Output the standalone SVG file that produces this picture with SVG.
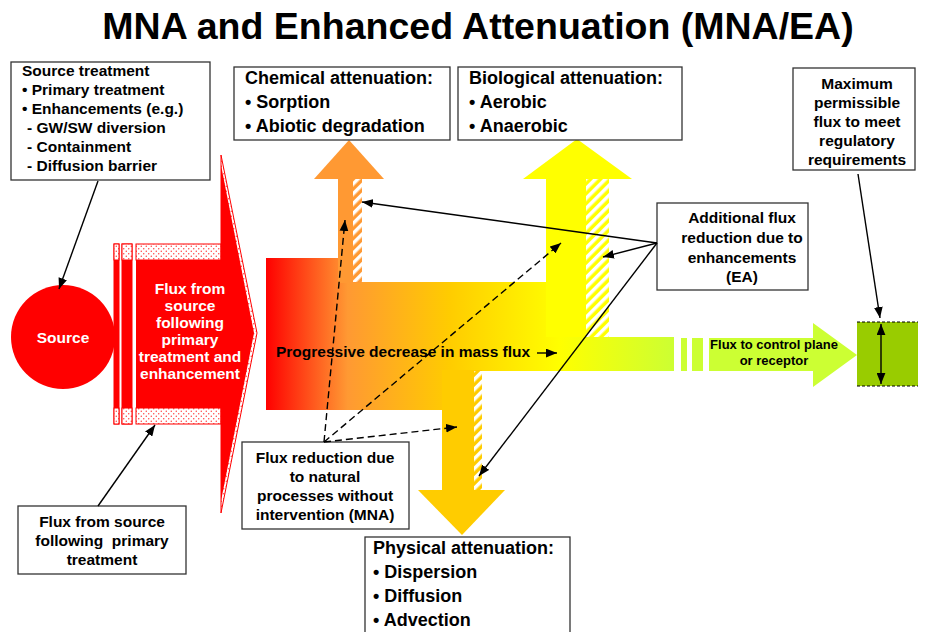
<svg xmlns="http://www.w3.org/2000/svg" width="927" height="632" viewBox="0 0 927 632">
<style>
text{font-family:"Liberation Sans",Arial,sans-serif;font-weight:bold;fill:#000}
.box{fill:#fff;stroke:#333;stroke-width:1.3}
.t15{font-size:15.5px}
.t18{font-size:18px}
.c{text-anchor:middle}
.w{fill:#fff}
.ln{stroke:#000;stroke-width:1.4;fill:none}
.dash{stroke-dasharray:7,4}
</style>
<defs>
<marker id="ah" viewBox="0 0 10 8" refX="10" refY="4" markerWidth="11" markerHeight="9" orient="auto-start-reverse" markerUnits="userSpaceOnUse"><path d="M0,0 L10,4 L0,8 z" fill="#000"/></marker>
<pattern id="dots" width="5" height="5" patternUnits="userSpaceOnUse"><rect width="5" height="5" fill="#fff"/><circle cx="1.25" cy="1.25" r="0.7" fill="#f33"/><circle cx="3.75" cy="3.75" r="0.7" fill="#f33"/></pattern>
<pattern id="hatch" width="7" height="7" patternUnits="userSpaceOnUse" patternTransform="rotate(45)"><rect width="3.5" height="7" fill="#fff"/></pattern>
<linearGradient id="grad" gradientUnits="userSpaceOnUse" x1="266" y1="0" x2="674" y2="0">
<stop offset="0" stop-color="#FF0000"/>
<stop offset="0.2" stop-color="#FF9933"/>
<stop offset="0.45" stop-color="#FFCC00"/>
<stop offset="0.72" stop-color="#FFFF00"/>
<stop offset="1" stop-color="#CCFF33"/>
</linearGradient>
</defs>
<rect width="927" height="632" fill="#fff"/>
<text x="478" y="39" class="c" style="font-size:37.5px">MNA and Enhanced Attenuation (MNA/EA)</text>

<g id="source">
<circle cx="63" cy="337" r="52" fill="#FF0000"/>
<text x="63" y="343" class="c t15 w">Source</text>
</g>

<g id="source-flux">
<rect x="114" y="244" width="5" height="180" fill="#f00" stroke="#f00"/>
<rect x="114" y="244" width="5" height="16" fill="url(#dots)" stroke="#f00"/>
<rect x="114" y="408" width="5" height="16" fill="url(#dots)" stroke="#f00"/>
<rect x="122" y="244" width="10" height="180" fill="#f00" stroke="#f00"/>
<rect x="122" y="244" width="10" height="16" fill="url(#dots)" stroke="#f00"/>
<rect x="122" y="408" width="10" height="16" fill="url(#dots)" stroke="#f00"/>
<rect x="136" y="260" width="86" height="148" fill="#f00"/>
<rect x="136" y="244" width="85" height="16" fill="url(#dots)" stroke="#f00"/>
<rect x="136" y="408" width="85" height="16" fill="url(#dots)" stroke="#f00"/>
<polygon points="221,155 257,333 221,513" fill="url(#dots)" stroke="#f00" stroke-width="1"/>
<polygon points="221,165 254,333 221,501" fill="#f00"/>
<text class="c t15 w" x="190"><tspan x="190" y="294">Flux from</tspan><tspan x="190" y="311">source</tspan><tspan x="190" y="328">following</tspan><tspan x="190" y="345">primary</tspan><tspan x="190" y="362">treatment and</tspan><tspan x="190" y="379">enhancement</tspan></text>
</g>

<g id="mass-flux">
<path d="M266,258 H338 V282 H609 V337 H674 V371 H442 V410 H266 Z" fill="url(#grad)"/>
<rect x="338" y="179" width="24" height="104" fill="#FF9933"/>
<rect x="353" y="179" width="9" height="103" fill="url(#hatch)"/>
<polygon points="314,179 349,140 384,179" fill="#FF9933"/>
<rect x="546" y="179" width="63" height="158" fill="#FFFF00"/>
<rect x="586" y="179" width="23" height="158" fill="url(#hatch)"/>
<polygon points="523,179 577,139 632,179" fill="#FFFF00"/>
<rect x="442" y="370" width="40" height="121" fill="#FFCC00"/>
<rect x="474" y="371" width="8" height="119" fill="url(#hatch)"/>
<polygon points="418,490 505,490 462,535" fill="#FFCC00"/>
<text x="276" y="357" class="t15">Progressive decrease in mass flux</text>
</g>

<g id="control-flux">
<rect x="681" y="338" width="6" height="33" fill="#CCFF33"/>
<rect x="692" y="338" width="11" height="33" fill="#CCFF33"/>
<polygon points="709,338 813,338 813,323 857,355 813,387 813,371 709,371" fill="#CCFF33"/>
<text class="c" style="font-size:13px"><tspan x="774" y="349">Flux to control plane</tspan><tspan x="774" y="365">or receptor</tspan></text>
</g>

<g id="control-plane">
<rect x="857" y="322" width="61" height="64" fill="#99CC00"/>
<line x1="857" y1="322" x2="918" y2="322" stroke="#000" stroke-dasharray="3,2"/>
<line x1="857" y1="386" x2="918" y2="386" stroke="#000" stroke-dasharray="3,2"/>
</g>

<g id="source-treatment">
<rect class="box" x="11" y="62" width="199" height="118"/>
<text class="t15"><tspan x="22" y="76">Source treatment</tspan><tspan x="22" y="95">• Primary treatment</tspan><tspan x="22" y="114">• Enhancements (e.g.)</tspan><tspan x="27" y="133">- GW/SW diversion</tspan><tspan x="27" y="152">- Containment</tspan><tspan x="27" y="171">- Diffusion barrier</tspan></text>
</g>

<g id="chemical">
<rect class="box" x="234" y="67" width="216" height="73"/>
<text class="t18"><tspan x="245" y="84">Chemical attenuation:</tspan><tspan x="245" y="108">• Sorption</tspan><tspan x="245" y="132">• Abiotic degradation</tspan></text>
</g>

<g id="biological">
<rect class="box" x="458" y="67" width="224" height="73"/>
<text class="t18"><tspan x="469" y="84">Biological attenuation:</tspan><tspan x="469" y="108">• Aerobic</tspan><tspan x="469" y="132">• Anaerobic</tspan></text>
</g>

<g id="maximum">
<rect class="box" x="793" y="68" width="122" height="102"/>
<text class="t15 c"><tspan x="857" y="89">Maximum</tspan><tspan x="857" y="108">permissible</tspan><tspan x="857" y="127">flux to meet</tspan><tspan x="857" y="146">regulatory</tspan><tspan x="857" y="165">requirements</tspan></text>
</g>

<g id="additional">
<rect class="box" x="657" y="203" width="151" height="87"/>
<text class="t15 c"><tspan x="742" y="223">Additional flux</tspan><tspan x="742" y="243">reduction due to</tspan><tspan x="742" y="263">enhancements</tspan><tspan x="742" y="282">(EA)</tspan></text>
</g>

<g id="mna">
<rect class="box" x="242" y="442" width="167" height="87"/>
<text class="t15 c"><tspan x="325" y="463">Flux reduction due</tspan><tspan x="325" y="482">to natural</tspan><tspan x="325" y="501">processes without</tspan><tspan x="325" y="520">intervention (MNA)</tspan></text>
</g>

<g id="primary">
<rect class="box" x="18" y="506" width="168" height="68"/>
<text class="t15 c" xml:space="preserve"><tspan x="102" y="527">Flux from source</tspan><tspan x="102" y="546">following  primary</tspan><tspan x="102" y="565">treatment</tspan></text>
</g>

<g id="physical">
<rect class="box" x="365" y="537" width="205" height="110"/>
<text class="t18"><tspan x="373" y="554">Physical attenuation:</tspan><tspan x="373" y="578">• Dispersion</tspan><tspan x="373" y="602">• Diffusion</tspan><tspan x="373" y="626">• Advection</tspan></text>
</g>

<g id="connectors">
<line class="ln" x1="98" y1="181" x2="59" y2="289" marker-end="url(#ah)"/>
<line class="ln" x1="98" y1="506" x2="155" y2="425" marker-end="url(#ah)"/>
<line class="ln" x1="657" y1="243" x2="362" y2="202" marker-end="url(#ah)"/>
<line class="ln" x1="657" y1="243" x2="603" y2="257" marker-end="url(#ah)"/>
<line class="ln" x1="657" y1="243" x2="479" y2="476" marker-end="url(#ah)"/>
<line class="ln dash" x1="324" y1="442" x2="345" y2="220" marker-end="url(#ah)"/>
<line class="ln dash" x1="324" y1="442" x2="561" y2="243" marker-end="url(#ah)"/>
<line class="ln dash" x1="324" y1="442" x2="457" y2="427" marker-end="url(#ah)"/>
<line class="ln" x1="537" y1="353" x2="557" y2="353" marker-end="url(#ah)"/>
<line class="ln" x1="858" y1="174" x2="880" y2="318" marker-end="url(#ah)"/>
<line class="ln" x1="881" y1="324" x2="881" y2="384" marker-start="url(#ah)" marker-end="url(#ah)"/>
</g>
</svg>
